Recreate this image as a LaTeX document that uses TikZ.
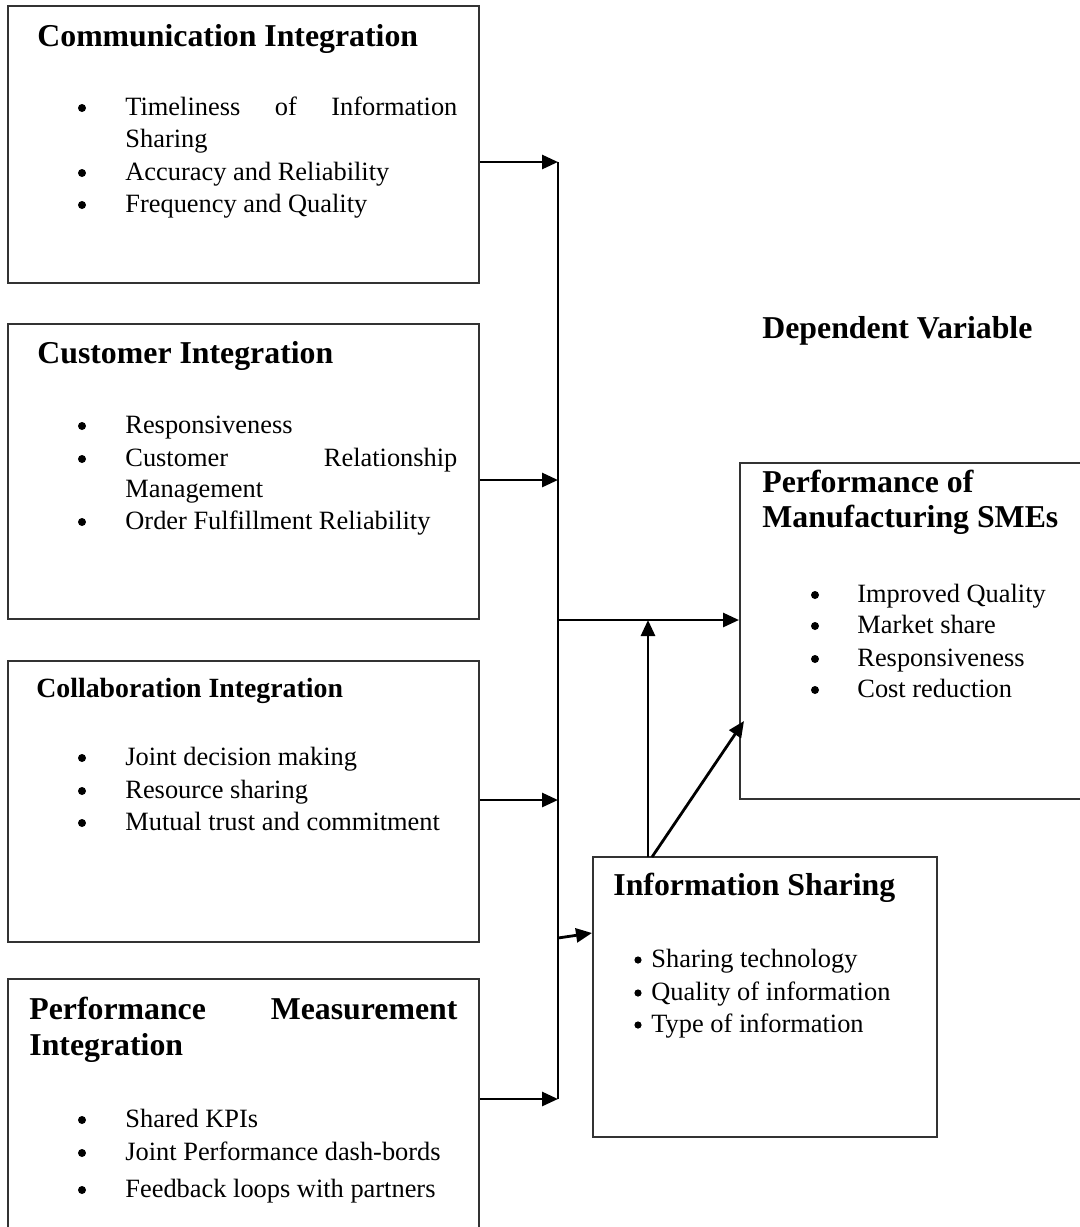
\documentclass[tikz,border=0pt]{standalone}
\usepackage{fontspec}
\setmainfont{Liberation Serif}
\usetikzlibrary{arrows.meta,fit}
\begin{document}
\begin{tikzpicture}[x=0.5pt,y=-0.5pt,
  frame/.style={draw=black!80, line width=1pt, inner sep=0pt},
  ttl/.style={anchor=base west, inner sep=0pt, font=\fontsize{15.9}{19}\selectfont\bfseries},
  ttlsm/.style={anchor=base west, inner sep=0pt, font=\fontsize{13.9}{16}\selectfont\bfseries},
  itm/.style={anchor=base west, inner sep=0pt, font=\fontsize{13.2}{15}\selectfont},
  bul/.style={circle, fill=black, inner sep=0pt, minimum size=4pt, yshift=3.5pt},
  arr/.style={line width=1.4pt, -{Triangle[length=8pt,width=7pt]}},
  bus/.style={line width=0.9pt}
]
\useasboundingbox (0,0) rectangle (1080,1227);
\clip (0,0) rectangle (1080,1227);

% frames
\node[frame, fit={(8,6) (479,283)}] (comm) {};
\node[frame, fit={(8,324) (479,619)}] (cust) {};
\node[frame, fit={(8,661) (479,942)}] (coll) {};
\node[frame, fit={(8,979) (479,1245)}] (pmi) {};
\node[frame, fit={(740,463) (1095,799)}] (perf) {};
\node[frame, fit={(593,857) (937,1137)}] (info) {};

% Communication Integration
\node[ttl] (tcomm) at (37,46) {Communication Integration};
\node[bul] (bc1) at (82,115) {};
\node[itm] (ic1) at (125,115) {\makebox[166pt][s]{Timeliness of Information}};
\node[itm] (ic1b) at (125,147) {Sharing};
\node[bul] (bc2) at (82,180) {};
\node[itm] (ic2) at (125,180) {Accuracy and Reliability};
\node[bul] (bc3) at (82,212) {};
\node[itm] (ic3) at (125,212) {Frequency and Quality};

% Customer Integration
\node[ttl] (tcust) at (37,363) {Customer Integration};
\node[bul] (bu1) at (82,433) {};
\node[itm] (iu1) at (125,433) {Responsiveness};
\node[bul] (bu2) at (82,466) {};
\node[itm] (iu2) at (125,466) {\makebox[166pt][s]{Customer Relationship}};
\node[itm] (iu2b) at (125,497) {Management};
\node[bul] (bu3) at (82,529) {};
\node[itm] (iu3) at (125,529) {Order Fulfillment Reliability};

% Collaboration Integration
\node[ttlsm] (tcoll) at (36,697) {Collaboration Integration};
\node[bul] (bl1) at (82,765) {};
\node[itm] (il1) at (125,765) {Joint decision making};
\node[bul] (bl2) at (82,798) {};
\node[itm] (il2) at (125,798) {Resource sharing};
\node[bul] (bl3) at (82,830) {};
\node[itm] (il3) at (125,830) {Mutual trust and commitment};

% Performance Measurement Integration
\node[ttl] (tpmi) at (29,1019) {\makebox[214pt][s]{Performance Measurement}};
\node[ttl] (tpmib) at (29,1055) {Integration};
\node[bul] (bp1) at (82,1127) {};
\node[itm] (ip1) at (125,1127) {Shared KPIs};
\node[bul] (bp2) at (82,1160) {};
\node[itm] (ip2) at (125,1160) {Joint Performance dash-bords};
\node[bul] (bp3) at (82,1197) {};
\node[itm] (ip3) at (125,1197) {Feedback loops with partners};

% Dependent variable
\node[ttl] (tdep) at (762,338) {Dependent Variable};
\node[ttl] (tperf) at (762,492) {Performance of};
\node[ttl] (tperfb) at (762,527) {Manufacturing SMEs};
\node[bul] (bf1) at (815,602) {};
\node[itm] (if1) at (857,602) {Improved Quality};
\node[bul] (bf2) at (815,633) {};
\node[itm] (if2) at (857,633) {Market share};
\node[bul] (bf3) at (815,666) {};
\node[itm] (if3) at (857,666) {Responsiveness};
\node[bul] (bf4) at (815,697) {};
\node[itm] (if4) at (857,697) {Cost reduction};

% Information Sharing
\node[ttl] (tinfo) at (613,895) {Information Sharing};
\node[bul, minimum size=3.6pt] (bs1) at (638,967) {};
\node[itm] (is1t) at (651,967) {Sharing technology};
\node[bul, minimum size=3.6pt] (bs2) at (638,1000) {};
\node[itm] (is2t) at (651,1000) {Quality of information};
\node[bul, minimum size=3.6pt] (bs3) at (638,1032) {};
\node[itm] (is3t) at (651,1032) {Type of information};

% collector line and junctions
\coordinate (busTop) at (558,162);
\coordinate (j2) at (558,480);
\coordinate (jp) at (558,620);
\coordinate (j3) at (558,800);
\coordinate (ji) at (558,938);
\coordinate (busBot) at (558,1099);
\coordinate (infoIn) at (592,933);
\coordinate (up) at (648,857);
\coordinate (diag) at (652,857);
\coordinate (perfIn) at (744,721);

\draw[bus] (busTop) -- (busBot);
\draw[arr] (comm.east |- busTop) -- (busTop);
\draw[arr] (cust.east |- j2) -- (j2);
\draw[arr] (coll.east |- j3) -- (j3);
\draw[arr] (pmi.east |- busBot) -- (busBot);
\draw[arr] (jp) -- (perf.west |- jp);
\draw[arr] (ji) -- (infoIn);
\draw[arr] (up) -- (up |- jp);
\draw[arr] (diag) -- (perfIn);
\end{tikzpicture}
\end{document}
